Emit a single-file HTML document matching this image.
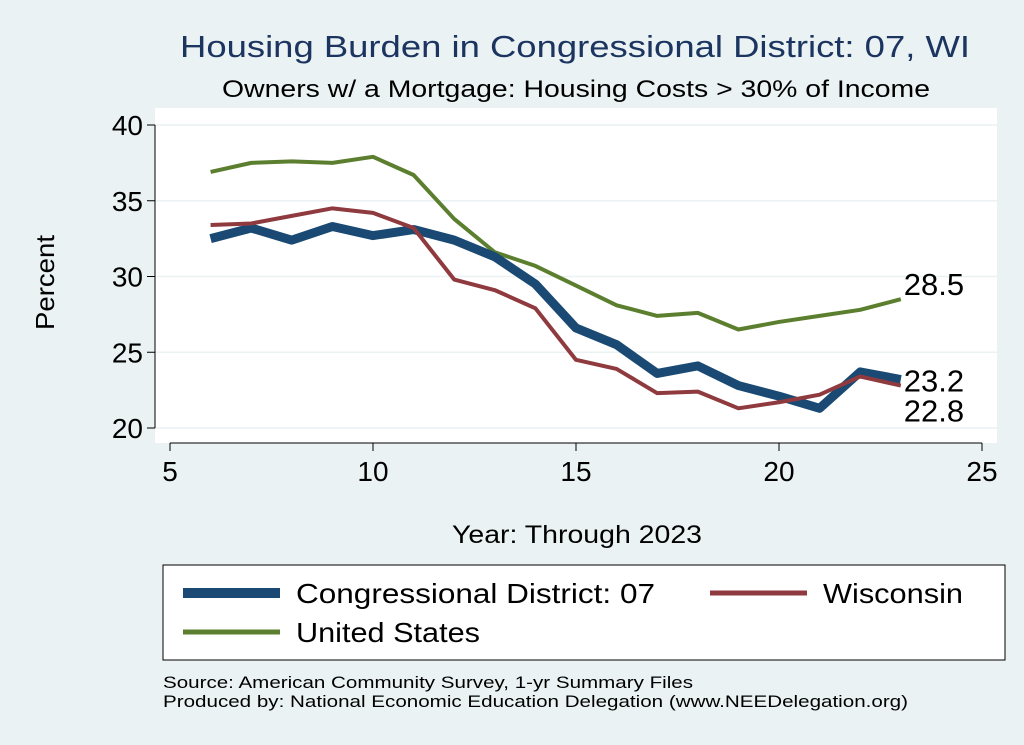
<!DOCTYPE html>
<html><head><meta charset="utf-8"><style>
body{margin:0;background:#eaf2f3;}
svg{display:block;font-family:"Liberation Sans",sans-serif;}
</style></head><body>
<svg id="c" width="1024" height="745" xml:space="preserve">
<rect x="0" y="0" width="1024" height="745" fill="#eaf2f3"/>
<text x="180" y="57" font-size="31" fill="#1c3560" textLength="790" lengthAdjust="spacingAndGlyphs">Housing Burden in Congressional District:  07, WI</text>
<text x="222" y="97" font-size="24" fill="#000" textLength="708" lengthAdjust="spacingAndGlyphs">Owners w/ a Mortgage: Housing Costs &gt; 30% of Income</text>
<rect x="155" y="108" width="842" height="335" fill="#fff"/>
<g id="grid"></g><g id="axes"></g><g id="lines"></g>
<text x="54" y="330" font-size="26" textLength="95" lengthAdjust="spacingAndGlyphs" transform="rotate(-90 54 330)">Percent</text>
<text x="452" y="543" font-size="25" textLength="250" lengthAdjust="spacingAndGlyphs">Year: Through 2023</text>
<g>
<rect x="163" y="565" width="842" height="95" fill="#fff" stroke="#000" stroke-width="1"/>
<line x1="183" y1="593" x2="280" y2="593" stroke="#1a4a73" stroke-width="10"/>
<text x="296" y="603" font-size="28" textLength="359" lengthAdjust="spacingAndGlyphs">Congressional District:  07</text>
<line x1="710" y1="593" x2="807" y2="593" stroke="#8f3a3e" stroke-width="5"/>
<text x="823" y="603" font-size="28" textLength="140" lengthAdjust="spacingAndGlyphs">Wisconsin</text>
<line x1="183" y1="632" x2="280" y2="632" stroke="#5b7f2e" stroke-width="5"/>
<text x="296" y="642" font-size="28" textLength="184" lengthAdjust="spacingAndGlyphs">United States</text>
</g>
<text x="163" y="688" font-size="17" textLength="530" lengthAdjust="spacingAndGlyphs">Source: American Community Survey, 1-yr Summary Files</text>
<text x="163" y="707" font-size="17" textLength="745" lengthAdjust="spacingAndGlyphs">Produced by: National Economic Education Delegation (www.NEEDelegation.org)</text>
</svg>
<script>
const years=[6,7,8,9,10,11,12,13,14,15,16,17,18,19,20,21,22,23];
const district=[32.5,33.2,32.4,33.3,32.7,33.1,32.4,31.3,29.5,26.6,25.5,23.6,24.1,22.8,22.1,21.3,23.7,23.2];
const wisconsin=[33.4,33.5,34.0,34.5,34.2,33.2,29.8,29.1,27.9,24.5,23.9,22.3,22.4,21.3,21.7,22.2,23.4,22.8];
const us=[36.9,37.5,37.6,37.5,37.9,36.7,33.8,31.6,30.7,29.4,28.1,27.4,27.6,26.5,27.0,27.4,27.8,28.5];
const xTicks=[5,10,15,20,25];
const yTicks=[20,25,30,35,40];
const NS="http://www.w3.org/2000/svg";
const xs=v=>170+(v-5)*(982-170)/20;
const ys=v=>428-(v-20)*(428-125)/20;
function mk(tag,attrs,parent){const e=document.createElementNS(NS,tag);for(const k in attrs)e.setAttribute(k,attrs[k]);document.getElementById(parent).appendChild(e);return e;}
yTicks.forEach(t=>{
  const g=mk('line',{x1:155,x2:997,y1:ys(t),y2:ys(t),stroke:'#eaf2f3','stroke-width':1.5},'grid');
  
  
  const tk=mk('line',{x1:147,x2:155,y1:ys(t),y2:ys(t),stroke:'#000'},'axes');
  
  
  const tx=mk('text',{x:143,y:ys(t)+10,'font-size':28,'text-anchor':'end'},'axes');tx.textContent=t;
  
  
});
xTicks.forEach(t=>{
  const tk=mk('line',{x1:xs(t),x2:xs(t),y1:443,y2:451,stroke:'#000'},'axes');
  
  
  const tx=mk('text',{x:xs(t),y:481,'font-size':28,'text-anchor':'middle'},'axes');tx.textContent=t;
  
  
});
const ya=mk('line',{x1:155,x2:155,y1:ys(40),y2:ys(20),stroke:'#000'},'axes');


const xa=mk('line',{x1:xs(5),x2:xs(25),y1:443,y2:443,stroke:'#000'},'axes');


function series(vals,color,w,name){
  const p=mk('polyline',{points:years.map((y,i)=>xs(y)+','+ys(vals[i])).join(' '),fill:'none',stroke:color,'stroke-width':w,'stroke-linejoin':'round'},'lines');
  
  
}
series(us,'#5b7f2e',4,'line-united-states');
series(district,'#1a4a73',9,'line-district');
series(wisconsin,'#8f3a3e',4,'line-wisconsin');
function endLabel(vals,dy,name){
  const v=vals[vals.length-1];
  const t=mk('text',{x:xs(years[years.length-1])+3,y:ys(v)+dy,'font-size':31},'lines');
  t.textContent=v.toFixed(1);
  
  
}
endLabel(us,-4,'end-label-us');
endLabel(district,12,'end-label-district');
endLabel(wisconsin,36,'end-label-wisconsin');
</script>
</body></html>
